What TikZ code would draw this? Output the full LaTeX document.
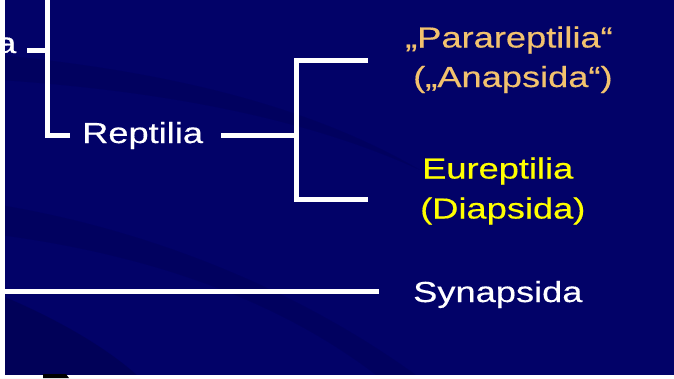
\documentclass[tikz,border=0pt]{standalone}
\usepackage{fontspec}
\newfontfamily\slidefont[FakeStretch=1.25,FakeBold=0.4]{Liberation Sans}
\definecolor{slideblue}{RGB}{2,2,104}
\definecolor{paraorange}{RGB}{242,194,110}
\definecolor{euyellow}{RGB}{255,255,0}
\begin{document}
\begin{tikzpicture}[x=1pt,y=-1pt,
  taxon/.style={anchor=base west,inner sep=0pt,font=\slidefont\fontsize{29}{34}\selectfont},
  branch/.style={draw=white,line width=5pt}]
\useasboundingbox (0,0) rectangle (674,378);
% background and swooshes
\fill[slideblue] (0,0) rectangle (674,378);
\fill[black,opacity=.08] (0,55) .. controls (150,70) and (300,100) .. (420,170)
  .. controls (300,115) and (150,90) .. (0,80) -- cycle;
\fill[black,opacity=.08] (0,205) .. controls (150,230) and (300,290) .. (420,378)
  -- (380,378) .. controls (280,300) and (150,255) .. (0,235) -- cycle;
\fill[black,opacity=.15] (0,295) .. controls (60,320) and (110,350) .. (140,378) -- (0,378) -- cycle;
% taxa
\node[taxon,white] (amn) at (-4,53) {a};
\node[taxon,white] (rep) at (82,143) {Reptilia};
\node[taxon,paraorange] (para) at (405,47.5) {„Parareptilia“};
\node[taxon,paraorange] (ana) at (413,87) {(„Anapsida“)};
\node[taxon,euyellow] (eu) at (422,178.5) {Eureptilia};
\node[taxon,euyellow] (dia) at (420,218.5) {(Diapsida)};
\node[taxon,white] (syn) at (413,302) {Synapsida};
% tree
\coordinate (top) at (47,-5);
\coordinate (fork) at (296,135);
\draw[branch] (top) |- ([xshift=-12pt]rep.west |- fork);
\draw[branch] (27,50.5) -- (top |- 0,50.5);
\draw[branch] ([xshift=18pt]rep.east |- fork) -- (fork);
\draw[branch] (368,60) -| (296,199.5) -- (368,199.5);
\draw[branch] (0,291.5) -- ([xshift=-34pt]syn.west |- 0,291.5);
% slide edges
\fill[white] (0,0) rectangle (5,378);
\fill[white] (0,375) rectangle (674,378);
\fill[black] (43,374) -- (66,374) -- (69,378) -- (43,378) -- cycle;
\end{tikzpicture}
\end{document}
